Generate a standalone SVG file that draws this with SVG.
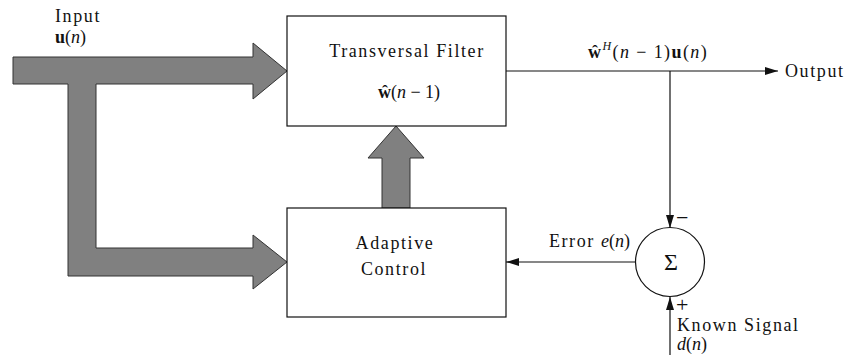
<svg xmlns="http://www.w3.org/2000/svg" width="855" height="355" viewBox="0 0 855 355">
<style>
  text { font-family: "Liberation Serif", "Times New Roman", serif; font-size: 18px; fill: #111; }
  .w { letter-spacing: 1.6px; }
  .it { font-style: italic; }
  .bf { font-weight: bold; }
  .sign { font-size: 22px; }
  .box { fill: #fff; stroke: #111; stroke-width: 1.2; }
  .fat { fill: #808080; stroke: #333; stroke-width: 1; stroke-linejoin: miter; }
  .wire { fill: none; stroke: #111; stroke-width: 1.2; }
</style>
<defs>
  <marker id="ah" viewBox="0 0 13 8" refX="13" refY="4" markerWidth="13" markerHeight="8" markerUnits="userSpaceOnUse" orient="auto">
    <path d="M0,0 L13,4 L0,8 Z" fill="#111"/>
  </marker>
</defs>

<g id="connectors">
  <path id="input-arrow" class="fat" d="M13,57 L253,57 L253,43 L287,71 L253,99 L253,84 L96,84 L96,248 L253,248 L253,235 L287,262 L253,289 L253,276 L68,276 L68,84 L13,84 Z"/>
  <path id="update-arrow" class="fat" d="M382,208 L382,158 L368,158 L396,126 L424,158 L410,158 L410,208 Z"/>
  <line class="wire" x1="506" y1="71" x2="778" y2="71" marker-end="url(#ah)"/>
  <line class="wire" x1="670" y1="71" x2="670" y2="228" marker-end="url(#ah)"/>
  <line class="wire" x1="670" y1="355" x2="670" y2="297" marker-end="url(#ah)"/>
  <line class="wire" x1="635" y1="262" x2="506" y2="262" marker-end="url(#ah)"/>
</g>

<g id="transversal-filter">
  <rect class="box" x="287" y="16" width="219" height="110"/>
  <text class="w" x="407" y="57" text-anchor="middle">Transversal Filter</text>
  <text x="409" y="98" text-anchor="middle"><tspan class="bf">ŵ</tspan>(<tspan class="it">n</tspan> − 1)</text>
</g>

<g id="adaptive-control">
  <rect class="box" x="287" y="208" width="219" height="109"/>
  <text class="w" x="395" y="249" text-anchor="middle">Adaptive</text>
  <text class="w" x="394" y="275" text-anchor="middle">Control</text>
</g>

<g id="summer">
  <circle cx="670" cy="262" r="34.5" fill="#fff" stroke="#111" stroke-width="1.2"/>
  <text x="671" y="270" text-anchor="middle" style="font-size:24px">Σ</text>
  <text class="sign" x="676" y="225">−</text>
  <text class="sign" x="676" y="312">+</text>
</g>

<g id="labels">
  <text class="w" x="55" y="22">Input</text>
  <text x="55" y="43"><tspan class="bf">u</tspan>(<tspan class="it">n</tspan>)</text>
  <text x="588" y="58" style="letter-spacing:1.4px"><tspan class="bf">ŵ</tspan><tspan dy="-8" style="font-size:12px" class="it">H</tspan><tspan dy="8">(</tspan><tspan class="it">n</tspan> − 1)<tspan class="bf">u</tspan>(<tspan class="it">n</tspan>)</text>
  <text class="w" x="785" y="77">Output</text>
  <text x="630" y="247" text-anchor="end"><tspan class="w">Error </tspan><tspan class="it">e</tspan>(<tspan class="it">n</tspan>)</text>
  <text class="w" x="677" y="331">Known Signal</text>
  <text x="677" y="350"><tspan class="it">d</tspan>(<tspan class="it">n</tspan>)</text>
</g>
</svg>
